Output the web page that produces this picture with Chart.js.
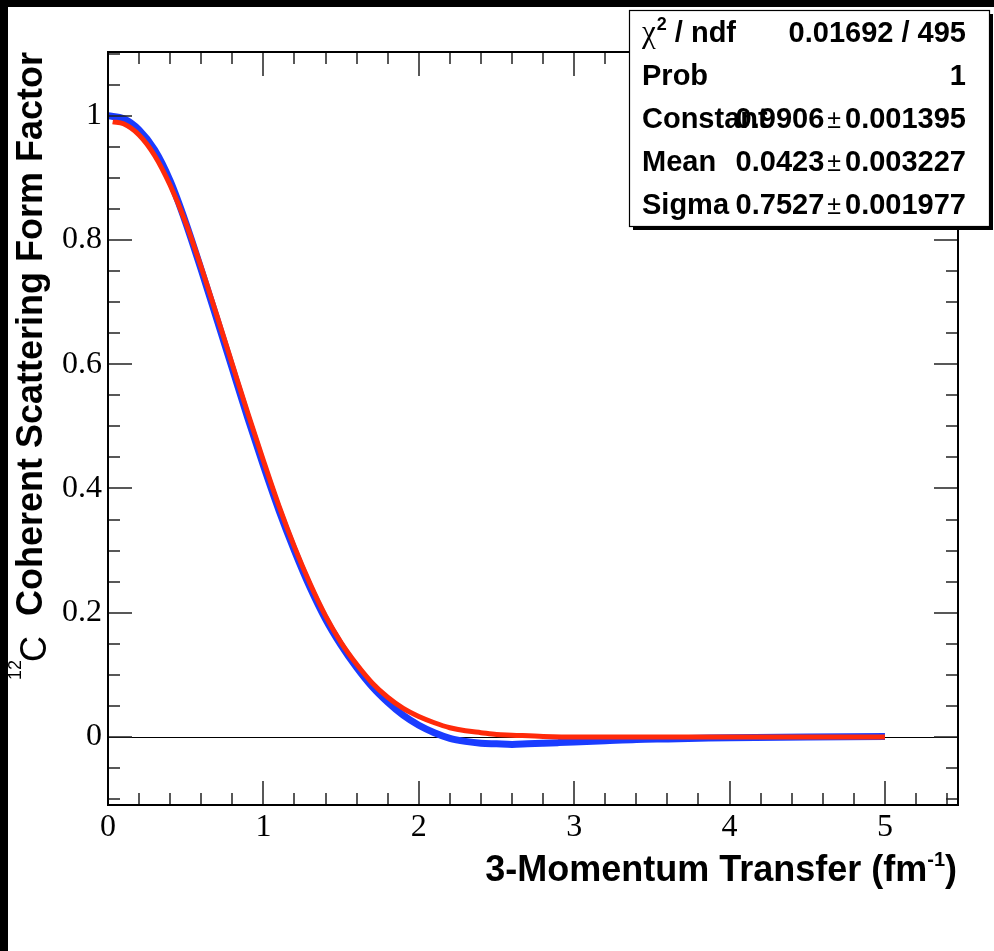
<!DOCTYPE html>
<html>
<head>
<meta charset="utf-8">
<script src="https://cdn.jsdelivr.net/npm/chart.js@4.4.1/dist/chart.umd.min.js"></script>
<style>
  html, body { margin: 0; padding: 0; background: #fff; }
  canvas { display: block; }
</style>
</head>
<body>
<canvas id="g-ff" width="994" height="951"></canvas>
<script>
// blue = 12C form factor (histogram), red = gaussian fit
const qBlue = [0, 0.1, 0.2, 0.3, 0.4, 0.5, 0.6, 0.7, 0.8, 0.9, 1.0, 1.1, 1.2, 1.3, 1.4, 1.5, 1.6, 1.7, 1.8, 1.9,
               2.0, 2.1, 2.2, 2.3, 2.4, 2.5, 2.6, 2.7, 2.8, 2.9, 3.0, 3.2, 3.4, 3.6, 3.8, 4.0, 4.5, 5.0];
const ffBlue = [1.000, 0.995, 0.977, 0.945, 0.895, 0.828, 0.752, 0.673, 0.593, 0.513, 0.437, 0.365, 0.300, 0.241, 0.190, 0.148, 0.112, 0.081, 0.056, 0.035,
                0.019, 0.007, -0.002, -0.007, -0.010, -0.011, -0.012, -0.011, -0.010, -0.009, -0.008, -0.006, -0.004, -0.003, -0.002, -0.001, 0.000, 0.001];

const qFit = [0.03, 0.1, 0.2, 0.3, 0.4, 0.5, 0.6, 0.7, 0.8, 0.9, 1.0, 1.1, 1.2, 1.3, 1.4, 1.5, 1.6, 1.7, 1.8, 1.9,
              2.0, 2.1, 2.2, 2.3, 2.4, 2.5, 2.6, 2.8, 3.0, 4.0, 5.0];
const ffFit = [0.990, 0.987, 0.969, 0.936, 0.888, 0.828, 0.756, 0.679, 0.600, 0.521, 0.445, 0.372, 0.306, 0.247, 0.195, 0.152, 0.117, 0.087, 0.064, 0.046,
               0.033, 0.023, 0.015, 0.010, 0.007, 0.004, 0.003, 0.001, 0.000, 0.000, 0.000];

const xMajor = [0, 1, 2, 3, 4, 5];
const yMajor = [0, 0.2, 0.4, 0.6, 0.8, 1];

// stats box
const chi2ndf = '0.01692 / 495';
const prob = '1';
const parNames = ['Constant', 'Mean', 'Sigma'];
const parValues = ['0.9906', '0.0423', '0.7527'];
const parErrors = ['0.001395', '0.003227', '0.001977'];

const SANS = '"Liberation Sans", Arial, sans-serif';
const SERIF = '"Liberation Serif", "Times New Roman", serif';

const toPoints = (xs, ys) => xs.map((x, i) => ({ x: x, y: ys[i] }));

const rootFrame = {
    id: 'rootFrame',
    beforeDatasetsDraw(chart) {
        const { ctx, chartArea: a, scales: { y } } = chart;
        const y0 = Math.round(y.getPixelForValue(0)) + 0.5;
        ctx.save();
        ctx.strokeStyle = '#000';
        ctx.lineWidth = 1;
        ctx.beginPath();
        ctx.moveTo(a.left, y0);
        ctx.lineTo(a.right, y0);
        ctx.stroke();
        ctx.restore();
    },
    afterDatasetsDraw(chart) {
        const { ctx, chartArea: a, scales: { x, y } } = chart;
        ctx.save();
        ctx.strokeStyle = '#222';
        ctx.lineWidth = 1.5;
        ctx.beginPath();
        for (let v = 0; v <= x.max + 1e-9; v += 0.2) {
            const major = Math.abs(v - Math.round(v)) < 1e-6;
            const len = major ? 24 : 12;
            const px = Math.round(x.getPixelForValue(v));
            ctx.moveTo(px, a.bottom); ctx.lineTo(px, a.bottom - len);
            ctx.moveTo(px, a.top); ctx.lineTo(px, a.top + len);
        }
        for (let v = Math.ceil(y.min / 0.05) * 0.05; v <= y.max + 1e-9; v += 0.05) {
            const major = Math.abs(v / 0.2 - Math.round(v / 0.2)) < 1e-6;
            const len = major ? 24 : 12;
            const py = Math.round(y.getPixelForValue(v));
            ctx.moveTo(a.left, py); ctx.lineTo(a.left + len, py);
            ctx.moveTo(a.right, py); ctx.lineTo(a.right - len, py);
        }
        ctx.stroke();
        ctx.strokeStyle = '#000';
        ctx.lineWidth = 2;
        ctx.strokeRect(a.left, a.top, a.right - a.left, a.bottom - a.top);
        ctx.restore();
    },
    afterDraw(chart) {
        const { ctx } = chart;
        ctx.save();
        ctx.fillStyle = '#000';

        // x title
        ctx.textBaseline = 'alphabetic';
        ctx.textAlign = 'right';
        ctx.font = 'bold 36px ' + SANS;
        let xr = 957;
        ctx.fillText(')', xr, 881);
        xr -= ctx.measureText(')').width;
        ctx.font = 'bold 20px ' + SANS;
        ctx.fillText('-1', xr, 866);
        xr -= ctx.measureText('-1').width;
        ctx.font = 'bold 36px ' + SANS;
        ctx.fillText('3-Momentum Transfer (fm', xr, 881);

        // y title
        ctx.save();
        ctx.translate(42, 52);
        ctx.rotate(-Math.PI / 2);
        ctx.textAlign = 'right';
        ctx.font = 'bold 36px ' + SANS;
        const main = 'Coherent Scattering Form Factor';
        ctx.fillText(main, 0, 0);
        let u = -ctx.measureText(main).width - 20;
        ctx.font = '36px ' + SANS;
        ctx.fillText('C', u, 4);
        u -= ctx.measureText('C').width - 2;
        ctx.font = '18px ' + SANS;
        ctx.fillText('12', u, -21);
        ctx.restore();

        // stats box
        const bx = 629, by = 10, bw = 360, bh = 216;
        ctx.fillRect(bx + 4, by + 4, bw, bh);
        ctx.fillStyle = '#fff';
        ctx.fillRect(bx, by, bw, bh);
        ctx.strokeStyle = '#000';
        ctx.lineWidth = 1.2;
        ctx.strokeRect(bx + 0.5, by + 0.5, bw, bh);
        ctx.fillStyle = '#000';
        const rowH = bh / 5;
        const base = i => by + rowH * (i + 0.5) + 10;
        const lx = 642, rx = 966;
        const BOLD = 'bold 29px ' + SANS;

        ctx.textAlign = 'left';
        ctx.font = '31px ' + SERIF;
        ctx.fillText('\u03c7', lx, base(0));
        let cx = lx + ctx.measureText('\u03c7').width + 1;
        ctx.font = 'bold 18px ' + SANS;
        ctx.fillText('2', cx, base(0) - 12);
        cx += ctx.measureText('2').width;
        ctx.font = BOLD;
        ctx.fillText(' / ndf', cx, base(0));
        ctx.fillText('Prob', lx, base(1));
        parNames.forEach((n, i) => ctx.fillText(n, lx, base(i + 2)));

        ctx.textAlign = 'right';
        ctx.fillText(chi2ndf, rx, base(0));
        ctx.fillText(prob, rx, base(1));
        parValues.forEach((v, i) => {
            let r = rx;
            ctx.font = BOLD;
            ctx.fillText(parErrors[i], r, base(i + 2));
            r -= ctx.measureText(parErrors[i]).width + 4;
            ctx.font = '25px ' + SANS;
            ctx.fillText('\u00b1', r, base(i + 2));
            r -= ctx.measureText('\u00b1').width + 3;
            ctx.font = BOLD;
            ctx.fillText(v, r, base(i + 2));
        });

        // black canvas edges
        ctx.fillRect(0, 0, chart.width, 7);
        ctx.fillRect(0, 0, 8, chart.height);
        ctx.restore();
    }
};

const ctx = document.getElementById('g-ff').getContext('2d');
new Chart(ctx, {
    type: 'line',
    data: {
        datasets: [
            {
                data: toPoints(qBlue, ffBlue),
                borderColor: '#1a3cff',
                borderWidth: 7,
                pointRadius: 0,
                cubicInterpolationMode: 'monotone',
                borderCapStyle: 'butt',
                order: 1
            },
            {
                data: toPoints(qFit, ffFit),
                borderColor: '#ff2a0a',
                borderWidth: 5,
                pointRadius: 0,
                cubicInterpolationMode: 'monotone',
                order: 0
            }
        ]
    },
    options: {
        responsive: false,
        animation: false,
        layout: { padding: { left: 0, top: 52, right: 36, bottom: 0 } },
        plugins: { legend: { display: false }, tooltip: { enabled: false } },
        scales: {
            x: {
                type: 'linear',
                min: 0,
                max: 5.47,
                grid: { display: false, drawTicks: false },
                border: { display: false },
                afterBuildTicks: s => { s.ticks = xMajor.map(v => ({ value: v })); },
                afterFit: s => { s.height = 146; },
                ticks: {
                    padding: 3,
                    color: '#000',
                    font: { family: SERIF, size: 32 },
                    maxRotation: 0,
                    callback: v => String(v)
                }
            },
            y: {
                min: -0.1094,
                max: 1.1025,
                grid: { display: false, drawTicks: false },
                border: { display: false },
                afterBuildTicks: s => { s.ticks = yMajor.map(v => ({ value: v })); },
                afterFit: s => { s.width = 108; },
                ticks: {
                    padding: 6,
                    color: '#000',
                    font: { family: SERIF, size: 32 },
                    callback: v => String(+v.toFixed(1))
                }
            }
        }
    },
    plugins: [rootFrame]
});
</script>
</body>
</html>
